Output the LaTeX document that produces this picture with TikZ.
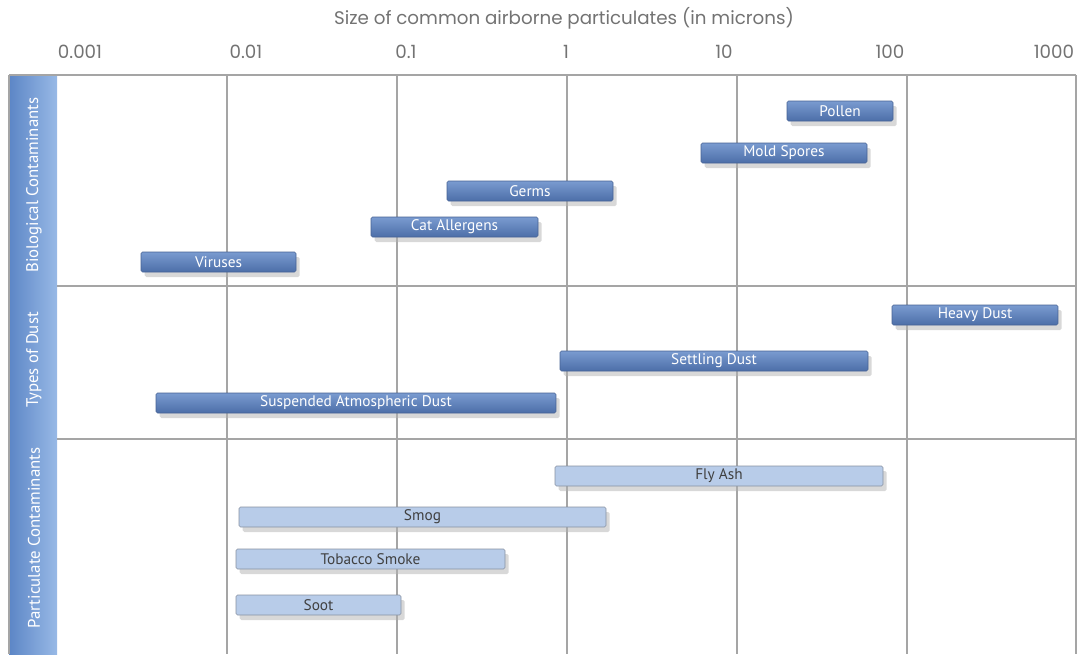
\documentclass[tikz,border=0pt]{standalone}
\usepackage{fontspec}
\setmainfont{PT Sans}
\newfontfamily\axisfont{Poppins}
\usepackage{tikz}
\usetikzlibrary{shadows}
\definecolor{barTop}{RGB}{122,155,208}
\definecolor{barBottom}{RGB}{76,110,168}
\definecolor{barEdge}{RGB}{70,98,148}
\definecolor{lightFill}{RGB}{184,204,233}
\definecolor{lightEdge}{RGB}{135,145,162}
\definecolor{bandLeft}{RGB}{92,134,198}
\definecolor{bandRight}{RGB}{152,185,230}
\definecolor{gridColor}{RGB}{165,165,165}

\begin{document}
\begin{tikzpicture}[x=0.75pt,y=-0.75pt]

            \tikzstyle{gridLine} = [draw=gridColor, line width=1pt];
            \tikzstyle{axisText} = [font=\axisfont\fontsize{13.7}{16}\selectfont, text=black!55];
            \tikzstyle{catText} = [font=\fontsize{12.6}{15}\selectfont, text=white, rotate=90];
            \tikzstyle{anyBar} = [rounded corners=1.2pt, minimum height=15pt, inner sep=0pt,
              font=\fontsize{11.5}{13}\selectfont,
              drop shadow={shadow xshift=2.8pt, shadow yshift=-3.8pt, fill=black!30}];
            \tikzstyle{darkBar} = [anyBar, draw=barEdge, top color=barTop, bottom color=barBottom, text=white];
            \tikzstyle{lightBar} = [anyBar, draw=lightEdge, fill=lightFill, text=black!75];

            \useasboundingbox (0,0) rectangle (1077,654);

            % title and scale
            \node[axisText] (title) at (564,18) {Size of common airborne particulates (in microns)};
            \node[axisText] (tick0) at (80,52) {0.001};
            \node[axisText] (tick1) at (246,52) {0.01};
            \node[axisText] (tick2) at (406,52) {0.1};
            \node[axisText] (tick3) at (566,52) {1};
            \node[axisText] (tick4) at (724,52) {10};
            \node[axisText] (tick5) at (890,52) {100};
            \node[axisText] (tick6) at (1054,52) {1000};

            % side band
            \shade[left color=bandLeft, right color=bandRight] (9,75) rectangle (57,654);
            \draw[gridLine] (9,75) -- (9,654);

            % grid
            \draw[gridLine] (9,75) -- (1076,75);
            \draw[gridLine] (57,286) -- (1076,286);
            \draw[gridLine] (57,439) -- (1076,439);
            \draw[gridLine] (227,75) -- (227,654);
            \draw[gridLine] (397,75) -- (397,654);
            \draw[gridLine] (567,75) -- (567,654);
            \draw[gridLine] (737,75) -- (737,654);
            \draw[gridLine] (907,75) -- (907,654);
            \draw[gridLine] (1076,75) -- (1076,654);

            \node[catText] (bio) at (34,185) {Biological Contaminants};
            \node[catText] (dust) at (34,360) {Types of Dust};
            \node[catText] (part) at (34,538) {Particulate Contaminants};

            % biological
            \node[darkBar, minimum width=79.5pt] (pollen) at (840,111) {Pollen};
            \node[darkBar, minimum width=124.5pt] (mold) at (784,153) {Mold Spores};
            \node[darkBar, minimum width=124.5pt] (germs) at (530,191) {Germs};
            \node[darkBar, minimum width=125.25pt] (cat) at (454.5,227) {Cat Allergens};
            \node[darkBar, minimum width=116.25pt] (virus) at (218.5,262) {Viruses};

            % dust
            \node[darkBar, minimum width=124.5pt] (heavy) at (975,315) {Heavy Dust};
            \node[darkBar, minimum width=231pt] (settling) at (714,361) {Settling Dust};
            \node[darkBar, minimum width=300pt] (suspended) at (356,403) {Suspended Atmospheric Dust};

            % particulates
            \node[lightBar, minimum width=246pt] (flyash) at (719,476) {Fly Ash};
            \node[lightBar, minimum width=275.25pt] (smog) at (422.5,517) {Smog};
            \node[lightBar, minimum width=201.75pt] (tobacco) at (370.5,559) {Tobacco Smoke};
            \node[lightBar, minimum width=123.75pt] (soot) at (318.5,605) {Soot};
          \end{tikzpicture}
\end{document}
